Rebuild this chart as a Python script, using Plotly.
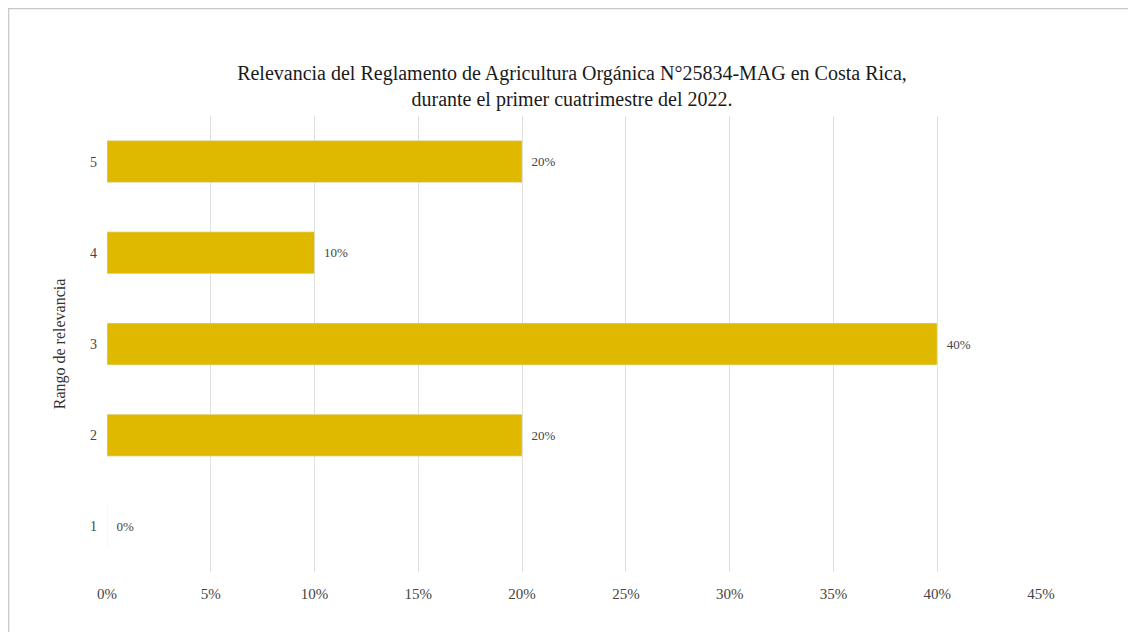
import plotly.graph_objects as go

categories = ["1", "2", "3", "4", "5"]
shares = [0.0, 0.20, 0.40, 0.10, 0.20]
labels = ["0%", "20%", "40%", "10%", "20%"]
tick_vals = [0, 0.05, 0.10, 0.15, 0.20, 0.25, 0.30, 0.35, 0.40, 0.45]
tick_text = ["0%", "5%", "10%", "15%", "20%", "25%", "30%", "35%", "40%", "45%"]

SERIF = "Liberation Serif"
# the page body has an 8px margin, so the figure is a bit smaller than the window
W, H = 1128, 624
L, R, T, B = 99, 95, 108, 60

fig = go.Figure(go.Bar(
    x=shares,
    y=categories,
    orientation="h",
    marker_color="#DFB900",
    text=labels,
    texttemplate="  %{text}",
    textposition="outside",
    textfont=dict(family=SERIF, size=13, color="#444"),
    cliponaxis=False,
))

# light frame around the whole chart (paper coords relative to the plot area)
pw, ph = W - L - R, H - T - B
fig.add_shape(type="rect", xref="paper", yref="paper",
              x0=(0.5 - L) / pw, x1=(1125 - L) / pw,
              y0=(H - B - 640) / ph, y1=(H - B - 0.5) / ph,
              line=dict(color="#c8c8c8", width=1.5), fillcolor="rgba(0,0,0,0)")

fig.update_layout(
    width=W, height=H,
    margin=dict(l=L, r=R, t=T, b=B),
    paper_bgcolor="white",
    plot_bgcolor="white",
    bargap=0.54,
    showlegend=False,
    title=dict(
        text="Relevancia del Reglamento de Agricultura Orgánica N°25834-MAG en Costa Rica,<br>"
             "durante el primer cuatrimestre del 2022.",
        x=0.5, xanchor="center", y=1 - 72 / H, yanchor="middle",
        font=dict(family=SERIF, size=20, color="#1a1a1a"),
    ),
    xaxis=dict(
        range=[0, 0.45],
        tickvals=tick_vals,
        ticktext=tick_text,
        showgrid=True, gridcolor="#e0e0e0", gridwidth=1,
        zeroline=False, showline=False,
        ticks="", ticklabelstandoff=11,
        tickfont=dict(family=SERIF, size=15, color="#444"),
    ),
    yaxis=dict(
        categoryorder="array", categoryarray=categories,
        showgrid=False, zeroline=False, showline=False,
        ticks="", ticklabelstandoff=9,
        tickfont=dict(family=SERIF, size=14, color="#444"),
        title=dict(text="Rango de relevancia", standoff=20,
                   font=dict(family=SERIF, size=16, color="#333")),
    ),
)

fig.write_html("out.html")
